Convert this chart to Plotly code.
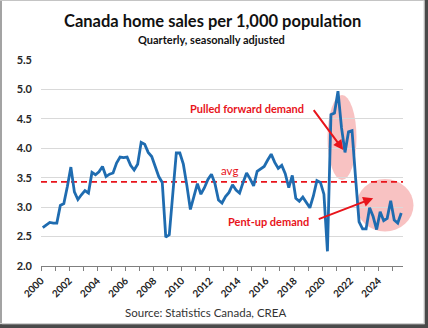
import plotly.graph_objects as go

# Quarterly home sales per 1,000 population, 2000Q1 .. 2025Q3
start_year = 2000
sales_per_1000 = [
    2.65, 2.69, 2.74, 2.73, 2.73, 3.03, 3.06, 3.35, 3.68, 3.26,
    3.13, 3.21, 3.28, 3.24, 3.59, 3.55, 3.60, 3.69, 3.52, 3.56,
    3.58, 3.75, 3.85, 3.84, 3.85, 3.71, 3.63, 3.73, 4.10, 4.07,
    3.93, 3.86, 3.68, 3.52, 3.42, 2.49, 2.53, 3.30, 3.92, 3.92,
    3.73, 3.37, 2.96, 3.18, 3.40, 3.22, 3.33, 3.47, 3.56, 3.40,
    3.12, 3.07, 3.18, 3.25, 3.38, 3.29, 3.24, 3.42, 3.58, 3.48,
    3.36, 3.61, 3.65, 3.69, 3.80, 3.90, 3.76, 3.66, 3.71, 3.57,
    3.33, 3.54, 3.15, 3.10, 3.17, 3.08, 2.99, 3.19, 3.45, 3.42,
    3.22, 2.25, 4.57, 4.60, 4.97, 4.35, 3.93, 4.28, 4.30, 3.50,
    2.75, 2.63, 2.63, 2.99, 2.84, 2.62, 2.92, 2.77, 2.81, 3.11,
    2.78, 2.73, 2.90,
]
avg_level = 3.43
year_labels = [str(y) for y in range(2000, 2025, 2)]
year_ticks = list(range(2000, 2025, 2))

# quarter midpoints on a continuous year axis
quarters_x = [start_year + (i + 0.5) / 4 for i in range(len(sales_per_1000))]
x_min, x_max = 2000, 2025.75

W, H = 428, 328
ML, MR, MT, MB = 41, 25, 60, 62
PW, PH = W - ML - MR, H - MT - MB


def px(x):
    return (x - ML) / PW


def py(y):
    return (H - MB - y) / PH


RED = "#e8141b"
BLUE = "#1f6cb0"
FONT = "Lato"

fig = go.Figure()

fig.add_trace(go.Scatter(
    x=[x_min, x_max], y=[avg_level, avg_level], mode="lines",
    line=dict(color=RED, width=1.6, dash="6px,4px"),
    hoverinfo="skip", showlegend=False,
))
fig.add_trace(go.Scatter(
    x=quarters_x, y=sales_per_1000, mode="lines",
    line=dict(color=BLUE, width=2.8),
    showlegend=False,
))

shapes = [
    # highlighted regions
    dict(type="circle", xref="paper", yref="paper", layer="below",
         x0=px(327.5), x1=px(356.5), y0=py(180), y1=py(95),
         fillcolor="rgba(235,80,80,0.35)", line=dict(width=0)),
    dict(type="circle", xref="paper", yref="paper", layer="below",
         x0=px(356.5), x1=px(413.5), y0=py(231.5), y1=py(179),
         fillcolor="rgba(235,80,80,0.35)", line=dict(width=0)),
    # frame
    dict(type="rect", xref="paper", yref="paper",
         x0=px(0), x1=px(2), y0=py(328), y1=py(0),
         fillcolor="#a3a3a3", line=dict(width=0)),
    dict(type="rect", xref="paper", yref="paper",
         x0=px(0), x1=px(428), y0=py(1), y1=py(0),
         fillcolor="#c4c4c4", line=dict(width=0)),
    dict(type="line", xref="paper", yref="paper",
         x0=px(424), x1=px(424), y0=py(323.5), y1=py(0),
         line=dict(color="#d0d0d0", width=1)),
    dict(type="line", xref="paper", yref="paper",
         x0=px(0), x1=px(424), y0=py(323.5), y1=py(323.5),
         line=dict(color="#d0d0d0", width=1)),
    dict(type="rect", xref="paper", yref="paper",
         x0=px(424.7), x1=px(428), y0=py(328), y1=py(0),
         fillcolor="#4a4a4a", line=dict(width=0)),
    dict(type="rect", xref="paper", yref="paper",
         x0=px(0), x1=px(428), y0=py(328), y1=py(324.3),
         fillcolor="#4a4a4a", line=dict(width=0)),
]


def paper_text(text, x, y, size, color, bold=False):
    return dict(text=f"<b>{text}</b>" if bold else text,
                xref="paper", yref="paper", x=px(x), y=py(y),
                xanchor="center", yanchor="middle", showarrow=False,
                font=dict(family=FONT, size=size, color=color))


def data_text(text, x, y, size, color, bold=False):
    return dict(text=f"<b>{text}</b>" if bold else text,
                xref="x", yref="y", x=x, y=y,
                xanchor="center", yanchor="middle", showarrow=False,
                font=dict(family=FONT, size=size, color=color))


def arrow(x0, y0, x1, y1):
    return dict(text="", x=x1, y=y1, ax=x0, ay=y0,
                xref="x", yref="y", axref="x", ayref="y",
                showarrow=True, arrowhead=2, arrowsize=1, arrowwidth=2,
                arrowcolor=RED)


annotations = [
    paper_text("Canada home sales per 1,000 population", 212, 21.5, 16.5,
               "#111111", bold=True),
    paper_text("Quarterly, seasonally adjusted", 211.5, 39, 11,
               "#111111", bold=True),
    paper_text("Source: Statistics Canada, CREA", 205, 312.5, 11.5,
               "#333333"),
    data_text("avg", 2013.44, 3.63, 11.5, RED),
    data_text("Pulled forward demand", 2014.66, 4.675, 11, RED, bold=True),
    data_text("Pent-up demand", 2016.17, 2.757, 11, RED, bold=True),
    arrow(2019.32, 4.675, 2021.50, 3.97),
    arrow(2019.65, 2.786, 2023.63, 3.153),
]

fig.update_layout(
    width=W, height=H,
    margin=dict(l=ML, r=MR, t=MT, b=MB, pad=0),
    paper_bgcolor="white", plot_bgcolor="rgba(0,0,0,0)",
    shapes=shapes, annotations=annotations,
    font=dict(family=FONT),
)
fig.update_xaxes(
    range=[x_min, x_max], tickvals=year_ticks, ticktext=year_labels,
    tickangle=-45, ticks="outside", ticklen=4, tickcolor="#7f7f7f",
    tickfont=dict(family=FONT, size=10, color="#222222", weight="bold"),
    minor=dict(dtick=1, tick0=2000, ticks="outside", ticklen=4,
               tickcolor="#7f7f7f", showgrid=False),
    showline=True, linecolor="#7f7f7f", linewidth=1,
    showgrid=False, zeroline=False,
)
fig.update_yaxes(
    range=[2.0, 5.5], dtick=0.5, tickformat=".1f",
    showgrid=True, gridcolor="#d9d9d9", gridwidth=1,
    zeroline=False, showline=False, ticks="",
    ticklabelstandoff=8,
    tickfont=dict(family=FONT, size=11, color="#262626", weight="bold"),
)

fig.write_html("out.html")
